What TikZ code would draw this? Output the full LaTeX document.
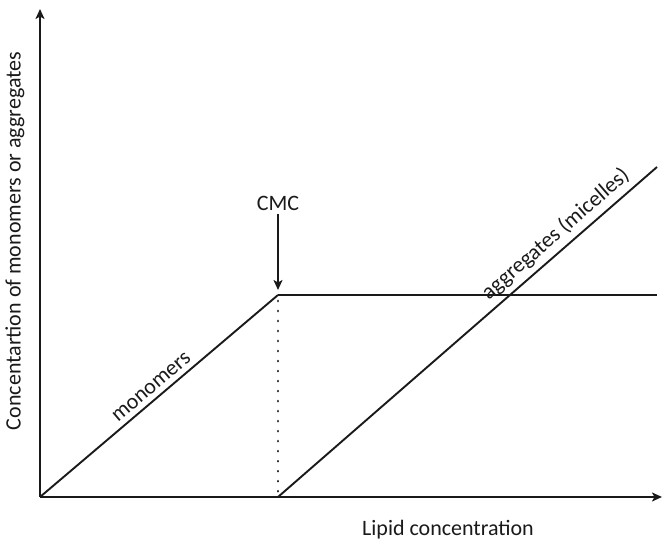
\documentclass[tikz,border=0pt]{standalone}
\usepackage{fontspec}
\setmainfont{Carlito}
\usepackage{xcolor}
\usetikzlibrary{arrows.meta,positioning,calc}
\definecolor{ink}{HTML}{1A1A1A}
\tikzset{
  >={Stealth[length=10pt,width=9pt,inset=2.5pt]},
  axisline/.style={draw=ink, line width=2.2pt},
  curveline/.style={draw=ink, line width=1.9pt},
  dotline/.style={draw=ink, line width=2.8pt, line cap=round, dash pattern=on 0.01pt off 10pt},
  figlabel/.style={font=\fontsize{22}{26}\selectfont, text=ink, inner sep=1pt},
}

\begin{document}
\begin{tikzpicture}[x=1pt, y=1pt, line join=round]
\useasboundingbox (0,0) rectangle (663,540);

% ===================== axes =====================
\coordinate (O) at (40,43);
\coordinate (ytip) at (40,531);
\coordinate (xtip) at (662,43);
\draw[axisline, ->] (O) -- (ytip);
\draw[axisline, ->] (O) -- (xtip);
\node[figlabel, rotate=90] (ylab) at (15,299) {Concentartion of monomers or aggregates};
\node[figlabel] (xlab) at (448,10) {Lipid concentration};

% ===================== monomers / aggregates =====================
\coordinate (cmcpt) at (278,245);
\coordinate (cmcbase) at (278,43);
\coordinate (flatend) at (657,245);
\coordinate (aggend) at (657,373);
\draw[curveline] (O) -- node[figlabel, sloped, above=4pt, midway] (mono) {monomers} (cmcpt);
\draw[curveline] (cmcpt) -- (flatend);
\draw[dotline] (cmcpt) ++(0,-6) -- (cmcbase);
\draw[curveline] (cmcbase) -- node[figlabel, sloped, above=4pt, pos=0.76] (agg) {aggregates (micelles)} (aggend);

% ===================== CMC marker =====================
\node[figlabel] (cmc) at (278,337) {CMC};
\coordinate (cmctip) at (278,250);
\draw[curveline, ->] (cmc.south) ++(0,-3) -- (cmctip);

\end{tikzpicture}
\end{document}
